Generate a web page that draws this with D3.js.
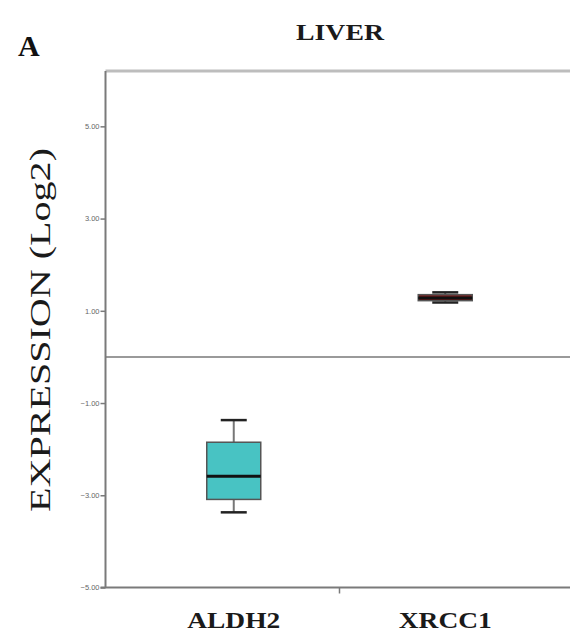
<!DOCTYPE html>
<html><head><meta charset="utf-8">
<script src="https://cdn.jsdelivr.net/npm/d3@7"></script>
<style>body{margin:0;background:#fff}svg{display:block}</style>
</head><body>
<script>
const categories = ["ALDH2", "XRCC1"];
const whiskerHigh = [-1.37, 1.40];
const q3 = [-1.85, 1.35];
const median = [-2.59, 1.28];
const q1 = [-3.09, 1.22];
const whiskerLow = [-3.37, 1.18];
const boxColors = ["#48c3c3", "#7a1a1a"];
const yTicks = [-5, -3, -1, 1, 3, 5];
const title = "LIVER";
const panel = "A";
const yLabel = "EXPRESSION (Log2)";

(function () {
const W = 570, H = 635;
const svg = d3.select("body").append("svg").attr("width", W).attr("height", H);
const pLeft = 105.5, pRight = 570, pTop = 71, pBottom = 587.5;

const y = d3.scaleLinear().domain([-5, 6.2]).range([pBottom, pTop]);
const x = d3.scaleBand().domain(categories).range([128, 551]).padding(0);

// top border line
svg.append("line").attr("x1", pLeft).attr("x2", pRight).attr("y1", pTop).attr("y2", pTop)
  .attr("stroke", "#bdbdbd").attr("stroke-width", 3);
// zero reference line
svg.append("line").attr("x1", pLeft).attr("x2", pRight).attr("y1", y(0)).attr("y2", y(0))
  .attr("stroke", "#9a9a9a").attr("stroke-width", 2);

// y axis
const yAxis = d3.axisLeft(y).tickValues(yTicks).tickSize(5).tickFormat(d3.format(".2f"));
const gy = svg.append("g").attr("transform", `translate(${pLeft},0)`).call(yAxis);
gy.select(".domain").attr("stroke", "#7a7a7a").attr("stroke-width", 2).attr("d", `M0,${pTop}V${pBottom}`);
gy.selectAll(".tick line").attr("stroke", "#7a7a7a").attr("stroke-width", 1.5);
gy.selectAll(".tick text").attr("font-family", "Liberation Sans, Arial, sans-serif")
  .attr("font-size", 7.5).attr("fill", "#666").attr("x", -6);

// x axis
const gx = svg.append("g").attr("transform", `translate(0,${pBottom})`);
gx.append("line").attr("x1", pLeft - 5).attr("x2", pRight).attr("stroke", "#7a7a7a").attr("stroke-width", 2);
const boundary = x.range()[0] + x.bandwidth();
gx.append("line").attr("x1", boundary).attr("x2", boundary).attr("y1", 0).attr("y2", 6)
  .attr("stroke", "#7a7a7a").attr("stroke-width", 1.5);
gx.selectAll("text.cat").data(categories).join("text").attr("class", "cat")
  .attr("x", d => x(d) + x.bandwidth() / 2).attr("y", 40)
  .attr("text-anchor", "middle").attr("font-family", "Liberation Serif, Times New Roman, serif")
  .attr("font-size", 24).attr("font-weight", "bold").attr("fill", "#1a1a1a")
  .attr("textLength", 93).attr("lengthAdjust", "spacingAndGlyphs")
  .text(d => d);

// boxes
const boxW = 54, capW = 26;
const g = svg.append("g");
categories.forEach((c, i) => {
  const cx = x(c) + x.bandwidth() / 2;
  g.append("line").attr("x1", cx).attr("x2", cx).attr("y1", y(whiskerHigh[i])).attr("y2", y(q3[i]))
    .attr("stroke", "#777").attr("stroke-width", 2);
  g.append("line").attr("x1", cx).attr("x2", cx).attr("y1", y(q1[i])).attr("y2", y(whiskerLow[i]))
    .attr("stroke", "#777").attr("stroke-width", 2);
  [whiskerHigh[i], whiskerLow[i]].forEach(v => {
    g.append("line").attr("x1", cx - capW / 2).attr("x2", cx + capW / 2).attr("y1", y(v)).attr("y2", y(v))
      .attr("stroke", "#222").attr("stroke-width", 2.5);
  });
  g.append("rect").attr("x", cx - boxW / 2).attr("width", boxW)
    .attr("y", y(q3[i])).attr("height", y(q1[i]) - y(q3[i]))
    .attr("fill", boxColors[i]).attr("stroke", "#555").attr("stroke-width", 1.5);
  g.append("line").attr("x1", cx - boxW / 2).attr("x2", cx + boxW / 2).attr("y1", y(median[i])).attr("y2", y(median[i]))
    .attr("stroke", "#111").attr("stroke-width", 3);
});

// title
svg.append("text").attr("x", 340).attr("y", 40).attr("text-anchor", "middle")
  .attr("font-family", "Liberation Serif, Times New Roman, serif").attr("font-size", 24).attr("font-weight", "bold")
  .attr("fill", "#1a1a1a").attr("textLength", 88).attr("lengthAdjust", "spacingAndGlyphs").text(title);
svg.append("text").attr("x", 18).attr("y", 56)
  .attr("font-family", "Liberation Serif, Times New Roman, serif").attr("font-size", 30).attr("font-weight", "bold")
  .attr("fill", "#111").text(panel);
// y label
svg.append("text").attr("transform", "translate(50,330) rotate(-90)").attr("text-anchor", "middle")
  .attr("font-family", "Liberation Serif, Times New Roman, serif").attr("font-size", 30)
  .attr("fill", "#1a1a1a").attr("textLength", 364).attr("lengthAdjust", "spacingAndGlyphs").text(yLabel);
})();
</script>
</body></html>
